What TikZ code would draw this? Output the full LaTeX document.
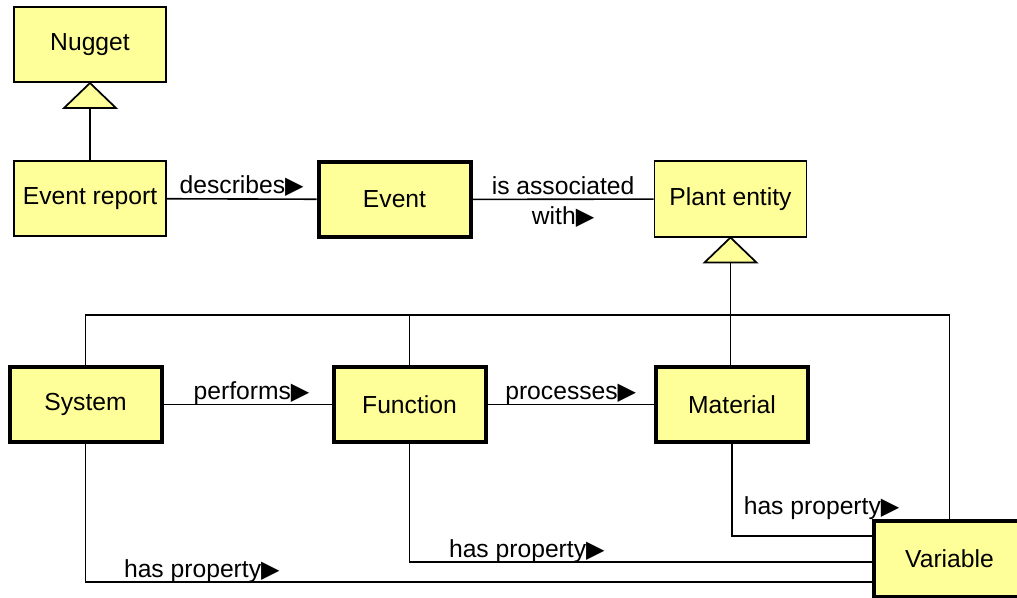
\documentclass[tikz,border=0pt]{standalone}
\usepackage{fontspec}
\setmainfont{Liberation Sans}
\newfontfamily\symfont{DejaVu Sans}
\usetikzlibrary{calc}
\definecolor{clsfill}{HTML}{FFFF99}
% reading-direction marker after association names
\newcommand{\rdir}{{\symfont\fontsize{18pt}{18pt}\selectfont ▶}}

\begin{document}
\begin{tikzpicture}[x=0.75pt,y=-0.75pt,
  cls/.style={draw, fill=clsfill, minimum width=114pt, minimum height=56.5pt,
    line width=1.3pt, inner sep=0pt, font=\fontsize{18.5pt}{22pt}\selectfont},
  thickcls/.style={cls, line width=3pt},
  conn/.style={line width=1.2pt},
  lbl/.style={font=\fontsize{18.5pt}{22pt}\selectfont, inner sep=0pt, anchor=base},
  on/.style={lbl, yshift=3.75pt},
  gen/.style={draw, fill=clsfill, line width=1.3pt, line join=miter}]

\clip (0,0) rectangle (1017,598);

% classes
\node[cls]      (nugget)   at (90,44.5)    {Nugget};
\node[cls]      (evrep)    at (90,198.5)   {Event report};
\node[thickcls] (event)    at (394.5,199.5){Event};
\node[cls]      (plant)    at (730.5,199)  {Plant entity};
\node[thickcls] (system)   at (85.5,404.5) {System};
\node[thickcls] (function) at (409.5,404.5){Function};
\node[thickcls] (material) at (732,404.5)  {Material};
\node[thickcls] (variable) at (949.5,559)  {Variable};

% generalisation anchors (base of the hollow triangles)
\coordinate (g1) at ($(nugget.south)+(0,25)$);
\coordinate (g2) at ($(plant.south)+(0,25)$);
\coordinate (bus) at (0,315);

% Event report is a Nugget
\draw[conn] (g1) -- (evrep.north);

% System, Function, Material, Variable are Plant entities
\draw[conn] (g2) -- (g2 |- material.north);
\draw[conn] (system.north) -- (system.north |- bus) -- (variable.north |- bus) -- (variable.north);
\draw[conn] (function.north) -- (function.north |- bus);

% associations
\draw[conn] (evrep) -- node[on] {describes\rdir} (event);
\draw[conn] (event) -- node[on] {is associated}
                       node[lbl, yshift=-18.75pt] {with\rdir} (plant);
\draw[conn] (system) -- node[on, xshift=3pt] {performs\rdir} (function);
\draw[conn] (function) -- node[on] {processes\rdir} (material);

% has property
\draw[conn] (system.south) |- node[on, pos=0.574] {has property\rdir}
  ($(variable.west)+(0,23)$);
\draw[conn] (function.south) |- node[on, pos=0.627] {has property\rdir}
  ($(variable.west)+(0,3)$);
\draw[conn] (material.south) |- node[lbl, pos=0.5, anchor=base west, xshift=8.25pt, yshift=16.5pt] {has property\rdir}
  ($(variable.west)+(0,-23)$);

% hollow triangles
\draw[gen] (nugget.south) -- ++(26,25) -- ++(-52,0) -- cycle;
\draw[gen] (plant.south) -- ++(26,25) -- ++(-52,0) -- cycle;

% keep Variable above its incoming lines
\node[thickcls] at (variable) {Variable};
\end{tikzpicture}
\end{document}
